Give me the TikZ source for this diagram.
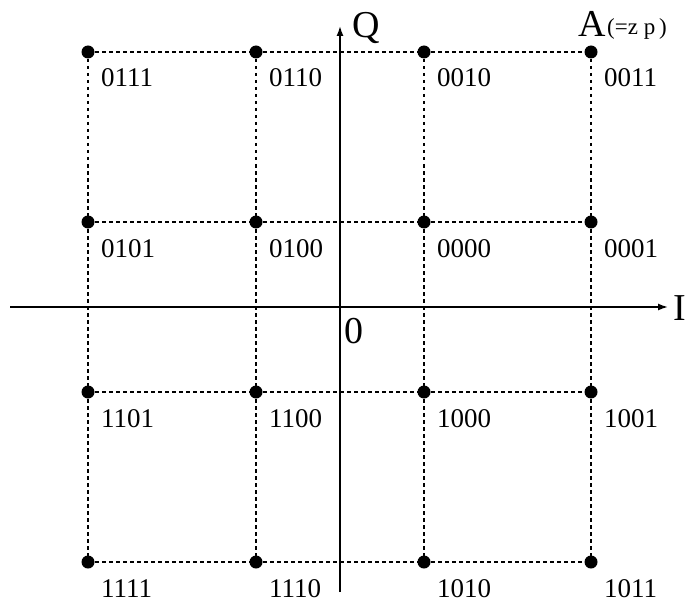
\documentclass[tikz,border=0pt]{standalone}
\usepackage{fontspec}
\setmainfont{Liberation Serif}
\usetikzlibrary{arrows.meta}
\begin{document}
\begin{tikzpicture}[x=1pt,y=-1pt,
 dot/.style={circle,fill=black,inner sep=0pt,minimum size=13pt},
 gridline/.style={line width=2pt,dash pattern=on 3.5pt off 3.5pt},
 axis/.style={line width=1.5pt,-{Latex[length=10pt,width=7pt]}},
 lbl/.style={font=\fontsize{27}{27}\selectfont,anchor=base west,inner sep=0pt},
 big/.style={font=\fontsize{38}{38}\selectfont,inner sep=0pt,anchor=base west}]
\useasboundingbox (0,0) rectangle (695,604);
% grid points
\foreach \c/\x in {1/88,2/256,3/424,4/591}
  \foreach \r/\y in {1/52,2/222,3/392,4/562}
    \coordinate (g\r\c) at (\x,\y);
% dotted grid
\foreach \r in {1,2,3,4}{
  \draw[gridline] (g\r1) -- (g\r2);
  \draw[gridline] (g\r2) -- (g\r3);
  \draw[gridline] (g\r3) -- (g\r4);
}
\foreach \c in {1,2,3,4}{
  \draw[gridline] (g1\c) -- (g2\c);
  \draw[gridline] (g2\c) -- (g3\c);
  \draw[gridline] (g3\c) -- (g4\c);
}
% axes
\coordinate (xs) at (10,307);
\coordinate (xe) at (668,307);
\coordinate (ys) at (340,592);
\coordinate (ye) at (340,26);
\draw[axis] (xs) -- (xe);
\draw[axis] (ys) -- (ye);
\node[big] (lI) at (673,320) {I};
\node[big] (lQ) at (352,38) {Q};
\node[big] (l0) at (344,343) {0};
\node[big] (lA) at (578,37) {A};
\node[font=\fontsize{23}{23}\selectfont,inner sep=0pt,anchor=base west] (lz) at (607,35) {(=z p\,)};
% dots
\foreach \r in {1,2,3,4}
  \foreach \c in {1,2,3,4}
    \node[dot] (d\r\c) at (g\r\c) {};
% labels
\foreach \r/\a/\b/\cc/\d in {1/0111/0110/0010/0011,2/0101/0100/0000/0001,3/1101/1100/1000/1001,4/1111/1110/1010/1011}{
  \node[lbl] (t\r1) at ([shift={(13,35)}]g\r1) {\a};
  \node[lbl] (t\r2) at ([shift={(13,35)}]g\r2) {\b};
  \node[lbl] (t\r3) at ([shift={(13,35)}]g\r3) {\cc};
  \node[lbl] (t\r4) at ([shift={(13,35)}]g\r4) {\d};
}
\end{tikzpicture}
\end{document}
